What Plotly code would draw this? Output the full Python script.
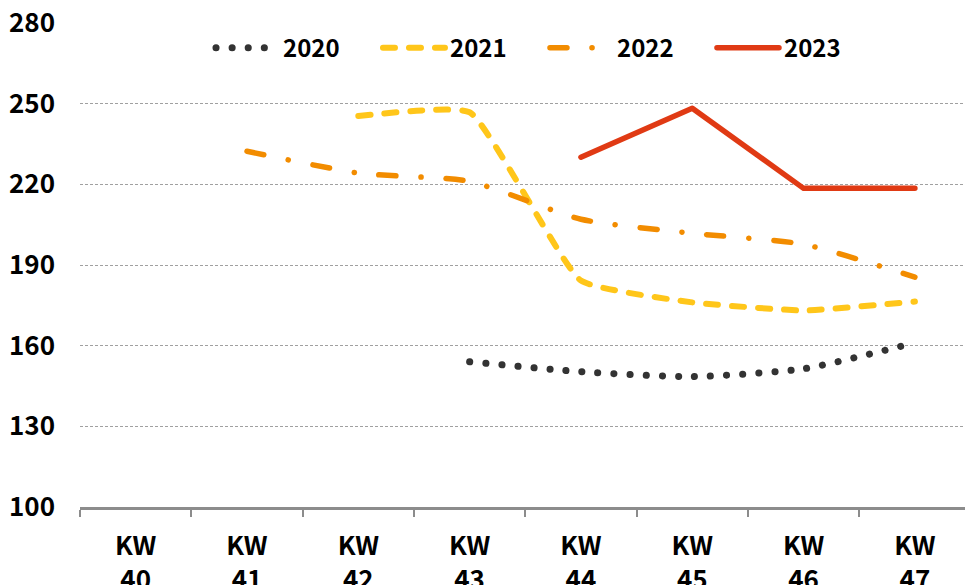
import plotly.graph_objects as go

weeks = ["KW<br>40", "KW<br>41", "KW<br>42", "KW<br>43", "KW<br>44", "KW<br>45", "KW<br>46", "KW<br>47"]
y_ticks = [100, 130, 160, 190, 220, 250, 280]

s2020 = [None, None, None, 154.0, 150.3, 148.5, 151.4, 161.1]
s2021 = [None, None, 245.4, 246.8, 184.2, 176.1, 173.1, 176.4]
s2022 = [None, 232.3, 224.2, 221.1, 207.0, 201.8, 197.7, 185.5]
s2023 = [None, None, None, None, 230.1, 248.3, 218.5, 218.5]

FONT = "Noto Sans CJK KR"

fig = go.Figure()
fig.add_trace(go.Scatter(x=weeks, y=s2020, name="2020", mode="lines",
                         line=dict(color="#333333", width=7, dash="0.1px,16px", shape="spline", smoothing=0.6)))
fig.add_trace(go.Scatter(x=weeks, y=s2021, name="2021", mode="lines",
                         line=dict(color="#FFC61A", width=6, dash="12px,14px", shape="spline", smoothing=0.4)))
fig.add_trace(go.Scatter(x=weeks, y=s2022, name="2022", mode="lines",
                         line=dict(color="#F28C00", width=5.5, dash="17px,25px,0.1px,25px", shape="spline", smoothing=0.6)))
fig.add_trace(go.Scatter(x=weeks, y=s2023, name="2023", mode="lines",
                         line=dict(color="#E03A14", width=5.5)))

fig.update_layout(
    width=965, height=585,
    margin=dict(l=80, r=0, t=23, b=78),
    paper_bgcolor="white", plot_bgcolor="white",
    font=dict(family=FONT, size=26, color="black", weight="bold"),
    showlegend=True,
    legend=dict(orientation="h", x=0.148, y=0.948, xanchor="left", yanchor="middle",
                font=dict(family=FONT, size=24, color="black", weight="bold"),
                itemwidth=62, entrywidth=90, entrywidthmode="pixels",
                bgcolor="rgba(0,0,0,0)", tracegroupgap=0),
    xaxis=dict(type="category", range=[-0.5, 7.45], showgrid=False, automargin=False,
               showline=True, linecolor="#8c8c8c", linewidth=3,
               ticks="outside", tickson="boundaries", ticklen=7, tickwidth=2, tickcolor="#8c8c8c",
               ticklabelstandoff=14, tickfont=dict(family=FONT, size=26, weight="bold"),
               zeroline=False, fixedrange=True),
    yaxis=dict(range=[100, 280], tickvals=y_ticks, showgrid=True, gridcolor="#a0a0a0",
               griddash="3px,2px", gridwidth=1, showline=False, zeroline=False, automargin=False,
               ticks="", ticklabelstandoff=24, tickfont=dict(family=FONT, size=26, weight="bold")),
)

post = """
document.body.style.margin='0';
document.body.style.overflow='hidden';
function fixCaps(){document.querySelectorAll('path.js-line').forEach(function(p){p.style.strokeLinecap='round';p.style.strokeLinejoin='round';});}
fixCaps();
var gd=document.getElementsByClassName('plotly-graph-div')[0];
if(gd&&gd.on){gd.on('plotly_afterplot',fixCaps);}
"""
fig.write_html("out.html", post_script=post, config={"displayModeBar": False})
